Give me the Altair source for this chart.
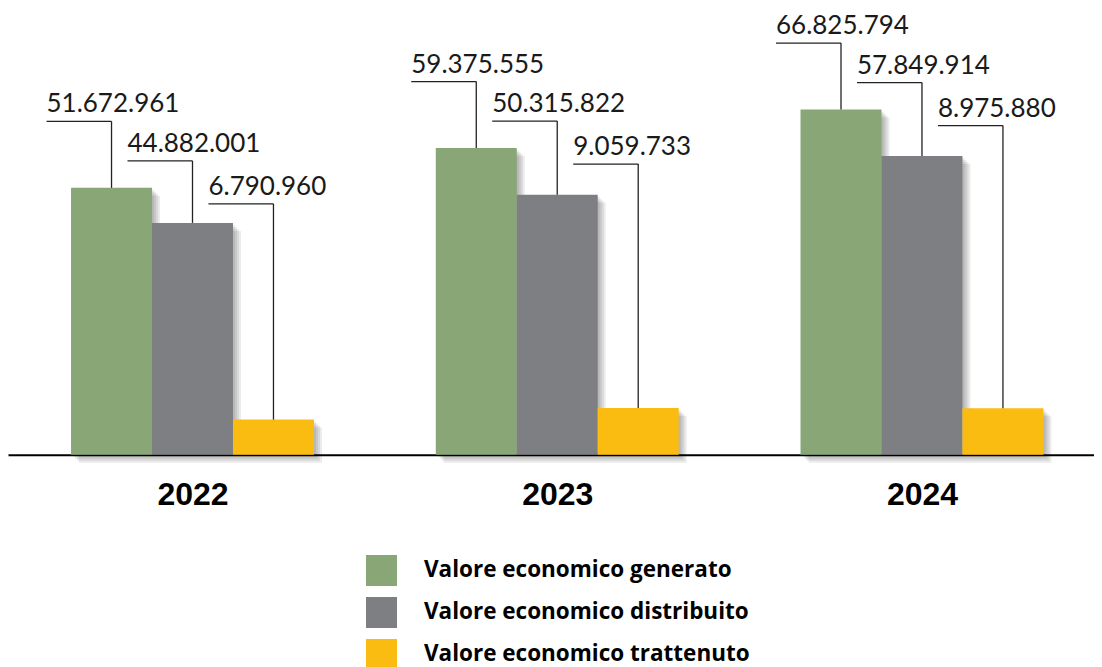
import altair as alt
import pandas as pd

# ---- data ----
years = ["2022", "2023", "2024"]
series = ["Valore economico generato", "Valore economico distribuito", "Valore economico trattenuto"]
generato = [51672961, 59375555, 66825794]
distribuito = [44882001, 50315822, 57849914]
trattenuto = [6790960, 9059733, 8975880]

# ---- styling / layout ----
colors = ["#89A676", "#7E7F82", "#FBBC12"]
W, H = 1086, 446.7          # plot area (baseline at bottom)
BOTTOM = 220                # room for year labels + legend
YMAX = 86.5e6
BW = 0.222                  # bar width in group units
X_DOMAIN = [-0.5058, 2.4716]
LEADER_PX = [66.5, 27.0, -16.0]   # leader height relative to the tallest bar of the group
LABEL_DX = -65

rows = []
values = [generato, distribuito, trattenuto]
for i, y in enumerate(years):
    gmax = max(v[i] for v in values)
    for k, s in enumerate(series):
        v = values[k][i]
        c = i + (k - 1) * BW
        rows.append({
            "year": y, "series": s, "value": v, "order": k,
            "center": c, "x0": c - BW / 2, "x1": c + BW / 2,
            "level": gmax + LEADER_PX[k] * YMAX / H,
            "label": f"{v:,}".replace(",", "."),
            "zero": 0,
        })
df = pd.DataFrame(rows)

xs = alt.Scale(domain=X_DOMAIN, nice=False, zero=False)
ys = alt.Scale(domain=[0, YMAX], nice=False)
xaxis = alt.Axis(
    values=[0, 1, 2], labelExpr="['2022','2023','2024'][datum.value]",
    title=None, ticks=False, grid=False, domainColor="#000000", domainWidth=2,
    labelFont="Liberation Sans", labelFontWeight="bold", labelFontSize=32,
    labelColor="#000000", labelPadding=25, labelFlush=False, labelOverlap=False,
)

base = alt.Chart(df)

layers = []
for d in [2, 4, 6, 8]:
    layers.append(
        base.mark_bar(color="#000000", opacity=0.08, xOffset=d, x2Offset=d, yOffset=d, y2Offset=d).encode(
            x=alt.X("x0:Q", scale=xs, axis=xaxis), x2="x1:Q",
            y=alt.Y("value:Q", scale=ys, axis=None), y2="zero:Q",
        )
    )

bars = base.mark_bar().encode(
    x=alt.X("x0:Q", scale=xs, axis=xaxis), x2="x1:Q",
    y=alt.Y("value:Q", scale=ys, axis=None), y2="zero:Q",
    color=alt.Color(
        "series:N",
        scale=alt.Scale(domain=series, range=colors),
        sort=series,
        legend=alt.Legend(
            title=None, orient="none", legendX=358, legendY=547,
            symbolType="square", symbolSize=961, symbolStrokeWidth=0, symbolOpacity=1,
            labelFont="Open Sans", labelFontWeight="bold", labelFontSize=22.5, labelColor="#000000",
            labelOffset=27, rowPadding=11, labelLimit=500,
        ),
    ),
)

vrule = base.mark_rule(color="#222222", strokeWidth=1.3).encode(
    x=alt.X("center:Q", scale=xs, axis=xaxis), y=alt.Y("value:Q", scale=ys, axis=None), y2="level:Q"
)
hrule = base.mark_rule(color="#222222", strokeWidth=1.3, xOffset=LABEL_DX).encode(
    x=alt.X("center:Q", scale=xs, axis=xaxis), x2="center:Q", y=alt.Y("level:Q", scale=ys, axis=None)
)
labels = base.mark_text(
    align="left", baseline="alphabetic", dx=LABEL_DX, dy=-9,
    font="Lato", fontSize=26, color="#1a1a1a",
).encode(
    x=alt.X("center:Q", scale=xs, axis=xaxis), y=alt.Y("level:Q", scale=ys, axis=None), text="label:N"
)

chart = alt.layer(*layers, bars, vrule, hrule, labels).properties(
    width=W, height=H,
    autosize=alt.AutoSizeParams(type="none"),
    padding={"left": 0, "top": 0, "right": 0, "bottom": BOTTOM},
).configure_view(stroke=None)

chart.save("out.html", embed_options={"renderer": "svg", "actions": False})
